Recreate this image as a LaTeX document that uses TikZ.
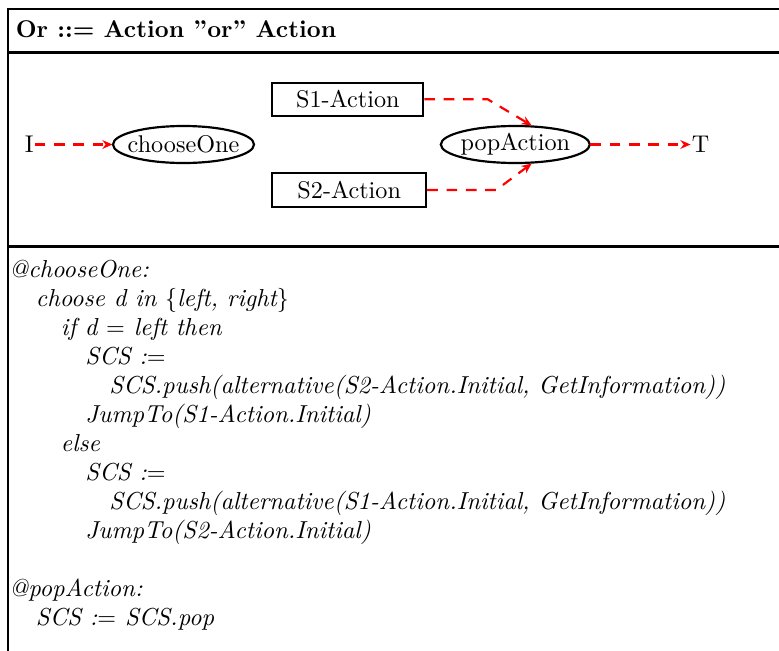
\documentclass[tikz,border=0pt]{standalone}
\usetikzlibrary{arrows.meta,calc}

\tikzset{
  frame/.style={line width=1.1pt, line cap=rect},
  flow/.style={red, line width=0.9pt, dash pattern=on 4.4pt off 3.6pt,
    -{Stealth[length=4.2pt,width=3.6pt]}},
  stepbox/.style={draw, line width=0.9pt, inner sep=0pt},
  oval/.style={inner sep=0pt},
  ovalline/.style={line width=0.9pt},
  term/.style={inner sep=0.3pt},
  code/.style={anchor=base west, inner sep=0pt, font=\fontsize{10.15pt}{12pt}\selectfont\itshape},
  heading/.style={anchor=base west, inner sep=0pt, font=\bfseries},
}

\begin{document}
\begin{tikzpicture}[x=0.4135pt, y=-0.4135pt]
  \useasboundingbox (0,0) rectangle (779,650);

  % frame: outer border and the two rules
  \draw[frame] (781,9) -- (8,9) -- (8,652);
  \draw[frame] (8,52.7) -- (781,52.7);
  \draw[frame] (8,246.7) -- (781,246.7);

  % heading
  \node[heading] (title) at (15.3,37.5)
    {Or ::= Action \textquotedblright or\textquotedblright{} Action};

  % flow graph
  \node[term] (i) at (29.2,144.5) {I};
  \node[oval, minimum width=58.3pt, minimum height=15.3pt] (cho) at (183.5,144.5) {chooseOne};
  \draw[ovalline] (cho.center) ellipse [x radius=29.15pt, y radius=7.65pt];
  \node[stepbox, minimum width=62.4pt, minimum height=13.8pt] (s1) at (347.8,99.3) {S1-Action};
  \node[stepbox, minimum width=63.6pt, minimum height=13.9pt] (s2) at (349.2,190) {S2-Action};
  \node[oval, minimum width=61.6pt, minimum height=15.3pt] (pop) at (515.3,144.5) {popAction};
  \draw[ovalline] (pop.center) ellipse [x radius=30.8pt, y radius=7.65pt];
  \node[term] (t) at (700.5,144.5) {T};

  \draw[flow] (i.east) -- (cho.west);
  \draw[flow] (s1.east) -- ++(63.4,0) -- ($(pop.north)+(16.4,0)$);
  \draw[flow] (s2.east) -- ++(69,0) -- ($(pop.south)+(16.4,0)$);
  \draw[flow] (pop.east) -- (t.west);

  % action code
  \node[code] (l1)  at (9,277.5)     {@chooseOne:};
  \node[code] (l2)  at (35.5,306.5)  {choose d in $\{$left, right$\}$};
  \node[code] (l3)  at (60.5,335.5)  {if d $=$ left then};
  \node[code] (l4)  at (85,364.5)    {SCS :$=$};
  \node[code] (l5)  at (109,393.5)   {SCS.push(alternative(S2-Action.Initial, GetInformation))};
  \node[code] (l6)  at (85,422.5)    {JumpTo(S1-Action.Initial)};
  \node[code] (l7)  at (60.5,451.5)  {else};
  \node[code] (l8)  at (85,480.5)    {SCS :$=$};
  \node[code] (l9)  at (109,509.5)   {SCS.push(alternative(S1-Action.Initial, GetInformation))};
  \node[code] (l10) at (85,538.5)    {JumpTo(S2-Action.Initial)};
  \node[code] (l11) at (9,596.5)     {@popAction:};
  \node[code] (l12) at (35.5,625.5)  {SCS :$=$ SCS.pop};
\end{tikzpicture}
\end{document}
